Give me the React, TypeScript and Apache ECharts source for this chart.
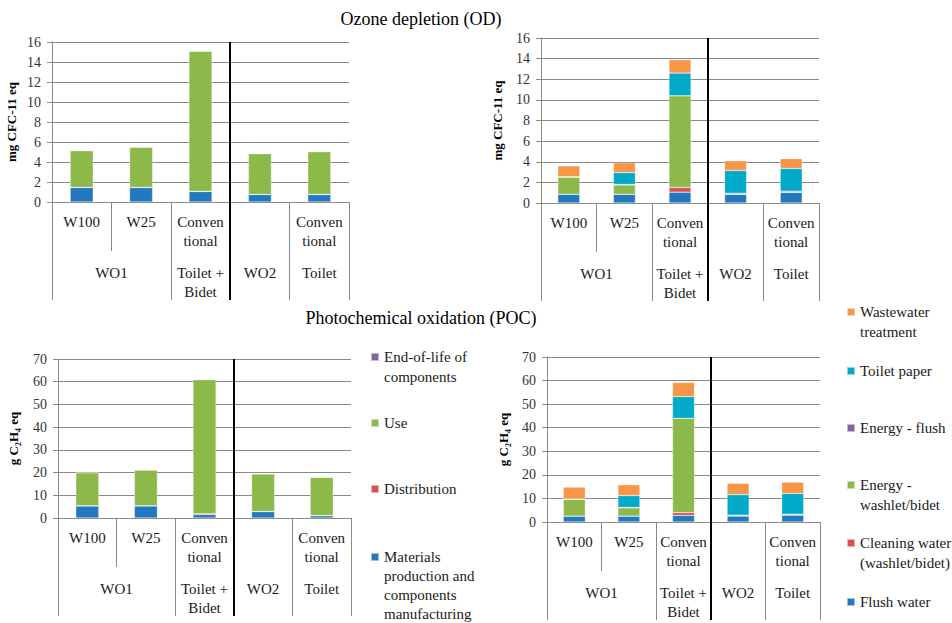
import React, { useEffect, useRef } from 'react';
import * as echarts from 'echarts';

// ---- categories & axis labels ----
const categories = ['W100', 'W25', 'Conven\ntional', '', 'Conven\ntional'];
const groupLabels = ['WO1', 'Toilet +\nBidet', 'WO2', 'Toilet'];
const groupCenters = [1, 2.5, 3.5, 4.5];
const groupBounds = [0, 2, 3, 4, 5];
const separatorAt = [3];

// ---- series names ----
const stageNames = ['Materials production and components manufacturing', 'Distribution', 'Use', 'End-of-life of components'];
const contribNames = ['Flush water', 'Cleaning water (washlet/bidet)', 'Energy - washlet/bidet', 'Energy - flush', 'Toilet paper', 'Wastewater treatment'];

// ---- Ozone depletion, life-cycle stages (mg CFC-11 eq) ----
const odMaterials = [1.45, 1.45, 1.05, 0.75, 0.75];
const odDistribution = [0.02, 0.02, 0.03, 0.02, 0.02];
const odUse = [3.66, 4.01, 13.99, 4.06, 4.26];
const odEndOfLife = [0.02, 0.02, 0.03, 0.02, 0.02];

// ---- Ozone depletion, use-phase contributions ----
const odFlush = [0.85, 0.85, 1.05, 0.85, 1.05];
const odCleaning = [0, 0, 0.45, 0, 0];
const odEnergyWashlet = [1.65, 0.9, 8.9, 0, 0];
const odEnergyFlush = [0.05, 0.05, 0, 0.1, 0.1];
const odToiletPaper = [0, 1.15, 2.2, 2.2, 2.2];
const odWastewater = [1.05, 0.95, 1.3, 0.95, 0.95];

// ---- Photochemical oxidation, life-cycle stages (g C2H4 eq) ----
const pocMaterials = [5.3, 5.3, 1.5, 2.8, 1.0];
const pocDistribution = [0.1, 0.1, 0.4, 0.1, 0.1];
const pocUse = [14.5, 15.7, 59.0, 16.5, 16.8];
const pocEndOfLife = [0.1, 0.1, 0.1, 0.1, 0.1];

// ---- Photochemical oxidation, use-phase contributions ----
const pocFlush = [2.5, 2.5, 2.8, 2.6, 3.0];
const pocCleaning = [0, 0, 1.2, 0, 0];
const pocEnergyWashlet = [7.1, 3.5, 40.0, 0, 0];
const pocEnergyFlush = [0.2, 0.2, 0, 0.3, 0.3];
const pocToiletPaper = [0, 5.0, 9.2, 8.7, 8.8];
const pocWastewater = [5.0, 4.6, 6.0, 4.8, 4.8];

const FONT = "'Liberation Serif', 'Times New Roman', serif";
const GRAY = '#8a8a8a';
const TXT = '#1a1a1a';

const stageColors = ['#2378BE', '#DB4F4F', '#8DB94B', '#8064A2'];
const contribColors = ['#2378BE', '#DB4F4F', '#8DB94B', '#8064A2', '#00AAC8', '#F79646'];

const legendText: Record<string, string> = {
  'Materials production and components manufacturing': 'Materials\nproduction and\ncomponents\nmanufacturing',
  'Distribution': 'Distribution',
  'Use': 'Use',
  'End-of-life of components': 'End-of-life of\ncomponents',
  'Flush water': 'Flush water',
  'Cleaning water (washlet/bidet)': 'Cleaning water\n(washlet/bidet)',
  'Energy - washlet/bidet': 'Energy -\nwashlet/bidet',
  'Energy - flush': 'Energy - flush',
  'Toilet paper': 'Toilet paper',
  'Wastewater treatment': 'Wastewater\ntreatment',
};

export default function App() {
  const ref = useRef<HTMLDivElement>(null);
  useEffect(() => {
    if (!ref.current) return;
    const chart = echarts.init(ref.current, undefined, { renderer: 'svg' });

    const panels = [
      { grid: { left: 52, top: 42, width: 297, height: 160 }, max: 16, step: 2, yName: 'mg CFC-11 eq', nameGap: 34, names: stageNames, colors: stageColors, data: [odMaterials, odDistribution, odUse, odEndOfLife], barWidth: 23 },
      { grid: { left: 541, top: 38, width: 278, height: 165 }, max: 16, step: 2, yName: 'mg CFC-11 eq', nameGap: 37, names: contribNames, colors: contribColors, data: [odFlush, odCleaning, odEnergyWashlet, odEnergyFlush, odToiletPaper, odWastewater], barWidth: 22 },
      { grid: { left: 58, top: 359, width: 293, height: 159 }, max: 70, step: 10, yName: 'g C\u2082H\u2084 eq', nameGap: 38, names: stageNames, colors: stageColors, data: [pocMaterials, pocDistribution, pocUse, pocEndOfLife], barWidth: 23 },
      { grid: { left: 547, top: 357, width: 273, height: 165 }, max: 70, step: 10, yName: 'g C\u2082H\u2084 eq', nameGap: 37, names: contribNames, colors: contribColors, data: [pocFlush, pocCleaning, pocEnergyWashlet, pocEnergyFlush, pocToiletPaper, pocWastewater], barWidth: 22 },
    ];

    const ROW = 49;
    const labelStyle = { fontFamily: FONT, fontSize: 15, color: TXT, lineHeight: 19 };

    const grid: any[] = [];
    const xAxis: any[] = [];
    const yAxis: any[] = [];
    const series: any[] = [];

    panels.forEach((p, i) => {
      grid.push({ ...p.grid, containLabel: false });
      xAxis.push({
        type: 'category', gridIndex: i, data: categories, position: 'bottom',
        axisLine: { show: true, lineStyle: { color: GRAY, width: 1 } },
        axisTick: { show: true, length: ROW, interval: 0, lineStyle: { color: GRAY } },
        axisLabel: { interval: 0, margin: 10, ...labelStyle },
        splitLine: { show: false },
      });
      xAxis.push({
        type: 'value', gridIndex: i, min: 0, max: 5, position: 'bottom', offset: ROW,
        axisLine: { show: false },
        axisTick: { show: true, length: ROW, customValues: groupBounds, lineStyle: { color: GRAY } },
        axisLabel: {
          show: true, margin: 12, customValues: groupCenters, ...labelStyle,
          formatter: (v: number) => groupLabels[groupCenters.indexOf(v)] ?? '',
        },
        splitLine: { show: false },
      });
      xAxis.push({
        type: 'value', gridIndex: i, min: 0, max: 5, position: 'top',
        axisLine: { show: false },
        axisTick: { show: true, inside: true, length: p.grid.height + 2 * ROW, customValues: separatorAt, lineStyle: { color: '#000', width: 2 } },
        axisLabel: { show: false },
        splitLine: { show: false },
      });
      yAxis.push({
        type: 'value', gridIndex: i, min: 0, max: p.max, interval: p.step,
        axisLine: { show: true, lineStyle: { color: GRAY } },
        axisTick: { show: true, length: 5, lineStyle: { color: GRAY } },
        splitLine: { show: true, lineStyle: { color: GRAY, width: 1 } },
        axisLabel: { fontFamily: FONT, fontSize: 14, color: '#333', margin: 11 },
        name: p.yName, nameLocation: 'middle', nameGap: p.nameGap,
        nameTextStyle: { fontFamily: FONT, fontSize: 13, fontWeight: 'bold', color: '#000' },
      });
      p.names.forEach((name, j) => {
        series.push({
          type: 'bar', name, xAxisIndex: 3 * i, yAxisIndex: i, stack: 'p' + i,
          data: p.data[j], barWidth: p.barWidth,
          itemStyle: { color: p.colors[j], borderColor: 'rgba(255,255,255,0.55)', borderWidth: 0.5 },
        });
      });
    });

    const mkLegend = (name: string, x: number, iconTop: number, lh = 20) => {
      const lines = legendText[name].split('\n').length;
      const h = 8 + (lines - 1) * lh;
      const icon = lines === 1 ? 'rect' : `path://M0,0h8v8h-8zM0,${h - 0.1}h0.1v0.1h-0.1z`;
      return {
        show: true, data: [name], left: x, top: iconTop - (lh / 2 - 4), padding: 0, orient: 'vertical',
        selectedMode: false, icon, itemWidth: 8, itemHeight: h,
        formatter: (n: string) => legendText[n] ?? n,
        textStyle: { fontFamily: FONT, fontSize: 15, color: TXT, lineHeight: lh },
      };
    };
    const legend = [
      mkLegend('End-of-life of components', 370, 353),
      mkLegend('Use', 370, 419),
      mkLegend('Distribution', 370, 485),
      mkLegend('Materials production and components manufacturing', 370, 553, 19),
      mkLegend('Wastewater treatment', 846, 308),
      mkLegend('Toilet paper', 846, 367),
      mkLegend('Energy - flush', 846, 424),
      mkLegend('Energy - washlet/bidet', 846, 481),
      mkLegend('Cleaning water (washlet/bidet)', 846, 539),
      mkLegend('Flush water', 846, 598),
    ];

    chart.setOption({
      animation: false,
      backgroundColor: '#fff',
      title: [
        { text: 'Ozone depletion (OD)', left: 421, top: 10, textAlign: 'center', padding: 0, textStyle: { fontFamily: FONT, fontSize: 18, fontWeight: 'normal', color: '#000' } },
        { text: 'Photochemical oxidation (POC)', left: 421, top: 309, textAlign: 'center', padding: 0, textStyle: { fontFamily: FONT, fontSize: 18, fontWeight: 'normal', color: '#000' } },
      ],
      legend,
      grid,
      xAxis,
      yAxis,
      series,
    });
    return () => chart.dispose();
  }, []);
  return <div ref={ref} style={{ position: 'fixed', left: 0, top: 0, width: 952, height: 623 }} />;
}
